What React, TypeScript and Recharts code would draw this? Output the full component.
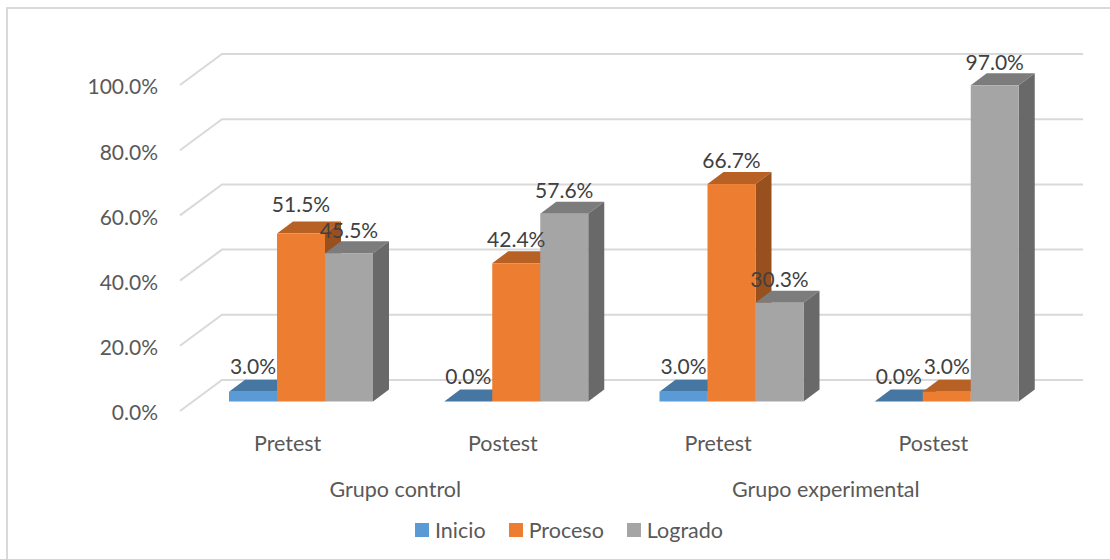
import React from "react";
import { BarChart, Bar, XAxis, YAxis, CartesianGrid, Legend, LabelList } from "recharts";

const tests = ["Pretest", "Postest", "Pretest", "Postest"];
const groups = ["Grupo control", "Grupo control", "Grupo experimental", "Grupo experimental"];
const inicio = [3.0, 0.0, 3.0, 0.0];
const proceso = [51.5, 42.4, 66.7, 3.0];
const logrado = [45.5, 57.6, 30.3, 97.0];
const yTicks = [0, 20, 40, 60, 80, 100];

const data = tests.map((test, i) => ({
  test,
  group: groups[i],
  inicio: inicio[i],
  proceso: proceso[i],
  logrado: logrado[i],
}));

const FONT = "Lato, Carlito, sans-serif";
const SHIFT_X = 13;
const SHIFT_Y = -9.5;
const DEPTH_X = 16;
const DEPTH_Y = -12;
const WALL_X = 42;
const WALL_Y = -31;

const make3D = (front: string, top: string, side: string) => (p: any) => {
  const x = p.x + SHIFT_X;
  const y = p.y + SHIFT_Y;
  const w = p.width;
  const h = p.height;
  return (
    <g>
      <polygon
        points={`${x},${y} ${x + DEPTH_X},${y + DEPTH_Y} ${x + w + DEPTH_X},${y + DEPTH_Y} ${x + w},${y}`}
        fill={top}
      />
      <polygon
        points={`${x + w},${y} ${x + w + DEPTH_X},${y + DEPTH_Y} ${x + w + DEPTH_X},${y + h + DEPTH_Y} ${x + w},${y + h}`}
        fill={side}
      />
      <rect x={x} y={y} width={w} height={h} fill={front} />
    </g>
  );
};

const wallLine = (p: any) => (
  <path
    key={p.key ?? p.index}
    d={`M${p.x1},${p.y1} L${p.x1 + WALL_X},${p.y1 + WALL_Y} L${p.x2 + WALL_X},${p.y1 + WALL_Y}`}
    fill="none"
    stroke="#d9d9d9"
    strokeWidth={2}
  />
);

const valueLabel = (lift: (v: number) => number) => (p: any) => (
  <text
    x={p.x + p.width / 2 + SHIFT_X}
    y={p.y + SHIFT_Y - lift(p.value)}
    textAnchor="middle"
    dominantBaseline="central"
    fill="#404040"
    fontFamily={FONT}
    fontSize={21}
  >
    {Number(p.value).toFixed(1)}%
  </text>
);

const legendContent = (props: any) => (
  <div style={{ display: "flex", paddingLeft: 415, height: 30, alignItems: "center", fontFamily: FONT, fontSize: 21.5, color: "#595959" }}>
    {props.payload.map((e: any) => (
      <div key={e.value} style={{ display: "flex", alignItems: "center", marginRight: 23 }}>
        <span style={{ width: 14, height: 14, background: e.color, marginRight: 6, display: "inline-block" }} />
        <span>{e.value}</span>
      </div>
    ))}
  </div>
);

export default function App() {
  const tick = { fill: "#595959", fontFamily: FONT, fontSize: 21.5 };
  const numTick = { fill: "#595959", fontFamily: FONT, fontSize: 21, dy: 2 };
  return (
    <div style={{ position: "absolute", left: 0, top: 0, width: 1110, height: 559, background: "#fff", overflow: "hidden" }}>
      <div style={{ position: "absolute", left: 6, top: 7, width: 1104, height: 560, borderLeft: "2px solid #d9d9d9", borderTop: "2px solid #d9d9d9" }} />
      <BarChart
        width={1110}
        height={559}
        data={data}
        barGap={0}
        barSize={48}
        margin={{ top: 85, right: 69, left: 80, bottom: 32 }}
        style={{ position: "absolute", left: 0, top: 0 }}
      >
        <CartesianGrid vertical={false} horizontal={wallLine} />
        <XAxis xAxisId={0} dataKey="test" axisLine={false} tickLine={false} tick={tick} height={40} tickMargin={19} interval={0} />
        <XAxis xAxisId="group" dataKey="group" allowDuplicatedCategory={false} axisLine={false} tickLine={false} tick={tick} height={46} tickMargin={25} interval={0} />
        <YAxis
          width={100}
          domain={[0, 100]}
          ticks={yTicks}
          axisLine={false}
          tickLine={false}
          tickSize={0}
          tickMargin={22}
          tick={numTick}
          tickFormatter={(v: number) => `${v.toFixed(1)}%`}
        />
        <Legend verticalAlign="bottom" itemSorter={null} content={legendContent} wrapperStyle={{ left: 0, width: 1110, bottom: 14 }} />
        <Bar dataKey="inicio" name="Inicio" fill="#5b9bd5" isAnimationActive={false} shape={make3D("#5b9bd5", "#4677a3", "#38638a")}>
          <LabelList dataKey="inicio" content={valueLabel(() => 26)} />
        </Bar>
        <Bar dataKey="proceso" name="Proceso" fill="#ed7d31" isAnimationActive={false} shape={make3D("#ed7d31", "#b86125", "#98501e")}>
          <LabelList dataKey="proceso" content={valueLabel((v) => (v === 51.5 ? 30 : v < 10 ? 26 : 25))} />
        </Bar>
        <Bar dataKey="logrado" name="Logrado" fill="#a5a5a5" isAnimationActive={false} shape={make3D("#a5a5a5", "#7c7c7c", "#696969")}>
          <LabelList dataKey="logrado" content={valueLabel(() => 24)} />
        </Bar>
      </BarChart>
    </div>
  );
}
